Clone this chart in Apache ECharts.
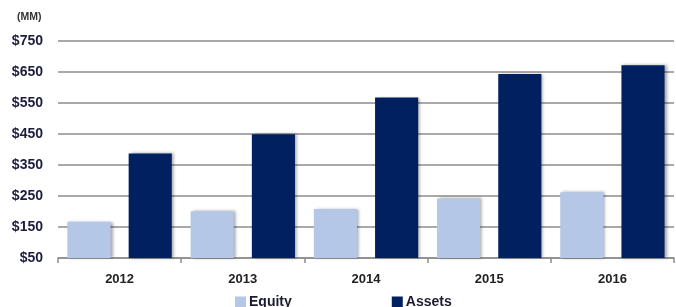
<!DOCTYPE html>
<html>
<head>
<meta charset="utf-8">
<script src="https://cdn.jsdelivr.net/npm/echarts@6/dist/echarts.min.js"></script>
<style>
  html, body { margin: 0; padding: 0; background: #fff; }
  #chart { width: 676px; height: 307px; }
</style>
</head>
<body>
<div id="chart"></div>
<script>
var years = ['2012', '2013', '2014', '2015', '2016']
var equity = [167, 201, 208, 242, 262]
var assets = [387, 449, 567, 643, 671]

var chart = echarts.init(document.getElementById('chart'))
var font = '"Liberation Sans", Arial, sans-serif'
var shadow = {
  shadowColor: 'rgba(0,0,0,0.35)',
  shadowBlur: 3,
  shadowOffsetX: 2,
  shadowOffsetY: 0
}

chart.setOption({
  animation: false,
  grid: {
    left: 58,
    right: 2,
    top: 40.7,
    bottom: 49
  },
  legend: {
    data: ['Equity', 'Assets'],
    left: 235,
    top: 295,
    padding: 0,
    itemWidth: 11,
    itemHeight: 11,
    itemGap: 100,
    icon: 'rect',
    textStyle: {
      fontFamily: font,
      fontWeight: 'bold',
      fontSize: 14,
      color: '#1c1c30',
      padding: [0, 0, 0, -2]
    }
  },
  graphic: [
    {
      type: 'text',
      left: 17,
      top: 12,
      style: {
        text: '(MM)',
        font: 'bold 10.5px ' + font,
        fill: '#333'
      }
    }
  ],
  xAxis: {
    type: 'category',
    data: years,
    axisLine: { lineStyle: { color: '#8c8c8c', width: 1.5 } },
    axisTick: { show: true, length: 5, lineStyle: { color: '#8c8c8c', width: 1.5 } },
    axisLabel: {
      margin: 15,
      fontFamily: font,
      fontWeight: 'bold',
      fontSize: 13,
      color: '#222'
    }
  },
  yAxis: {
    type: 'value',
    min: 50,
    max: 750,
    interval: 100,
    axisLine: { show: false },
    axisTick: { show: false },
    splitLine: { lineStyle: { color: '#8c8c8c', width: 1.5 } },
    axisLabel: {
      margin: 15,
      fontFamily: font,
      fontWeight: 'bold',
      fontSize: 14,
      color: '#1c1c3c',
      formatter: function (v) { return '$' + v }
    }
  },
  series: [
    {
      name: 'Equity',
      type: 'bar',
      data: equity,
      barWidth: '35%',
      barGap: '42%',
      itemStyle: Object.assign({ color: '#b4c7e7' }, shadow)
    },
    {
      name: 'Assets',
      type: 'bar',
      data: assets,
      barWidth: '35%',
      itemStyle: Object.assign({ color: '#002060' }, shadow)
    }
  ]
})
</script>
</body>
</html>
